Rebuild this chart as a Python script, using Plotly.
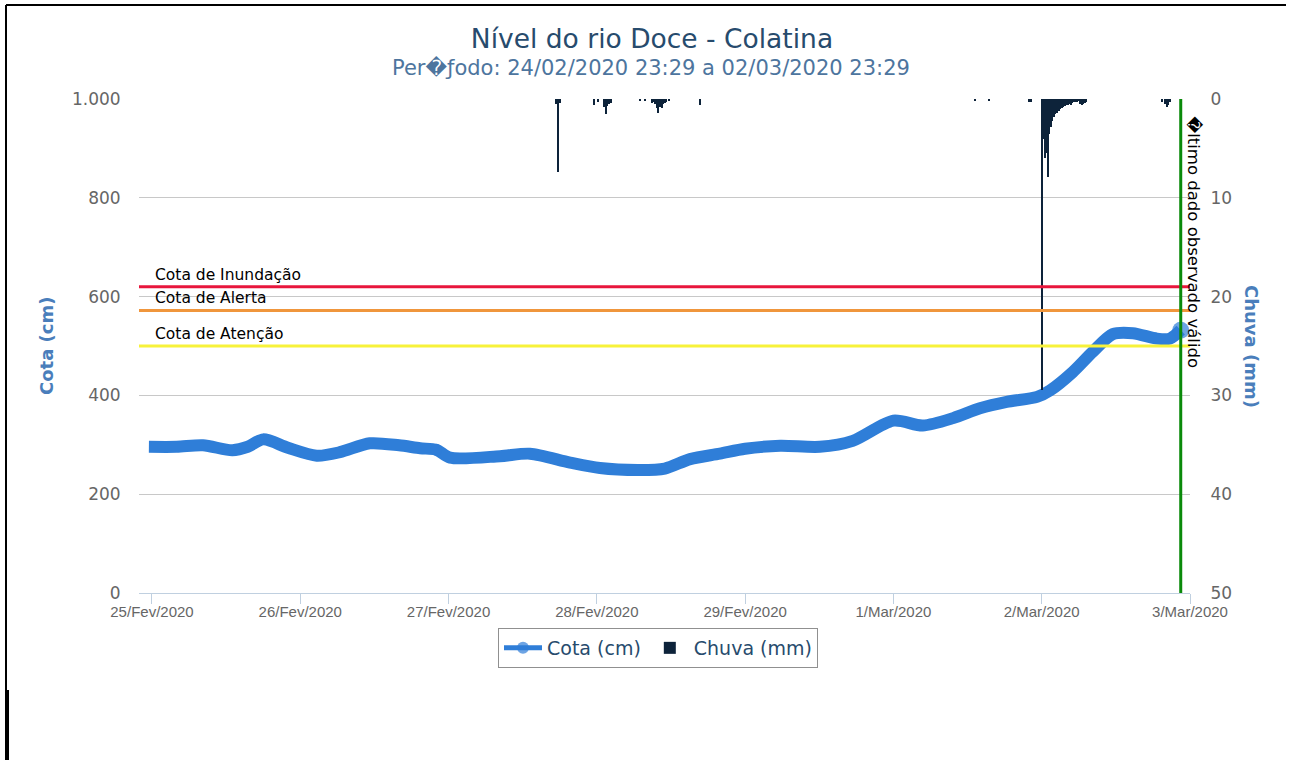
import plotly.graph_objects as go

# ---------------- data ----------------
title_text = "Nível do rio Doce - Colatina"
subtitle_text = "Per\ufffd\u0192odo: 24/02/2020 23:29 a 02/03/2020 23:29"

cota_time = [
    "2020-02-24 23:30", "2020-02-25 04:00", "2020-02-25 08:15", "2020-02-25 13:00",
    "2020-02-25 15:30", "2020-02-25 18:00", "2020-02-25 22:00", "2020-02-26 02:40",
    "2020-02-26 06:25", "2020-02-26 11:15", "2020-02-26 16:00", "2020-02-26 19:25",
    "2020-02-26 22:00", "2020-02-27 00:15", "2020-02-27 08:20", "2020-02-27 13:10",
    "2020-02-27 19:40", "2020-02-28 00:30", "2020-02-28 07:00", "2020-02-28 11:00",
    "2020-02-28 15:05", "2020-02-28 19:55", "2020-02-29 00:00", "2020-02-29 05:40",
    "2020-02-29 12:05", "2020-02-29 17:25", "2020-03-01 00:00", "2020-03-01 04:45",
    "2020-03-01 09:40", "2020-03-01 14:00", "2020-03-01 18:20", "2020-03-01 23:15",
    "2020-03-02 01:20", "2020-03-02 05:00", "2020-03-02 08:15", "2020-03-02 11:30",
    "2020-03-02 14:45", "2020-03-02 18:40", "2020-03-02 20:45", "2020-03-02 22:30",
]
cota_cm = [
    296, 296, 299, 289,
    296, 311, 294, 278,
    285, 303, 299, 293,
    290, 274, 277, 282,
    264, 253, 249, 252,
    271, 282, 292, 298,
    296, 308, 349, 339,
    354, 374, 387, 397,
    410, 447, 488, 524,
    526, 515, 515, 532,
]

chuva_time = [
    "2020-02-27 17:30", "2020-02-27 17:45", "2020-02-27 18:00", "2020-02-27 23:30",
    "2020-02-28 00:15", "2020-02-28 01:15", "2020-02-28 01:30", "2020-02-28 01:45",
    "2020-02-28 02:00", "2020-02-28 02:15", "2020-02-28 07:00", "2020-02-28 07:45",
    "2020-02-28 09:00", "2020-02-28 09:15", "2020-02-28 09:30", "2020-02-28 09:45",
    "2020-02-28 10:00", "2020-02-28 10:15", "2020-02-28 10:30", "2020-02-28 10:45",
    "2020-02-28 11:00", "2020-02-28 11:15", "2020-02-28 11:45", "2020-02-28 16:45",
    "2020-03-01 13:15", "2020-03-01 15:30", "2020-03-01 22:00", "2020-03-01 22:15",
    "2020-03-02 00:00", "2020-03-02 00:15", "2020-03-02 00:30", "2020-03-02 00:45",
    "2020-03-02 01:00", "2020-03-02 01:15", "2020-03-02 01:30", "2020-03-02 01:45",
    "2020-03-02 02:00", "2020-03-02 02:15", "2020-03-02 02:30", "2020-03-02 02:45",
    "2020-03-02 03:00", "2020-03-02 03:15", "2020-03-02 03:30", "2020-03-02 03:45",
    "2020-03-02 04:00", "2020-03-02 04:15", "2020-03-02 04:30", "2020-03-02 04:45",
    "2020-03-02 05:00", "2020-03-02 05:15", "2020-03-02 05:30", "2020-03-02 05:45",
    "2020-03-02 06:00", "2020-03-02 06:15", "2020-03-02 06:30", "2020-03-02 06:45",
    "2020-03-02 07:00", "2020-03-02 07:15", "2020-03-02 19:30", "2020-03-02 20:00",
    "2020-03-02 20:15", "2020-03-02 20:30", "2020-03-02 20:45",
]
chuva_mm = [
    0.5, 7.4, 0.4, 0.6,
    0.3, 0.8, 1.5, 0.7,
    0.5, 0.4, 0.2, 0.2,
    0.4, 0.3, 0.5, 0.9,
    1.4, 0.8, 0.9, 0.5,
    0.4, 0.3, 0.2, 0.6,
    0.2, 0.2, 0.3, 0.3,
    29.5, 4.0, 6.0, 5.5,
    7.9, 3.5, 2.8, 2.2,
    1.8, 1.5, 1.4, 1.2,
    1.0, 0.9, 0.8, 0.7,
    0.6, 0.6, 0.5, 0.6,
    0.4, 0.3, 0.3, 0.3,
    0.2, 0.5, 0.6, 0.5,
    0.4, 0.3, 0.3, 0.5,
    0.8, 0.6, 0.3,
]

limite_nomes = ["Cota de Inundação", "Cota de Alerta", "Cota de Atenção"]
limite_cm = [620, 572, 500]
limite_cores = ["#e8163c", "#f0963c", "#f7f23a"]

ultimo_dado_time = "2020-03-02 22:30"
ultimo_dado_text = "\ufffdltimo dado observado válido"

x_tick_vals = ["2020-02-25", "2020-02-26", "2020-02-27", "2020-02-28",
               "2020-02-29", "2020-03-01", "2020-03-02", "2020-03-03"]
x_tick_text = ["25/Fev/2020", "26/Fev/2020", "27/Fev/2020", "28/Fev/2020",
               "29/Fev/2020", "1/Mar/2020", "2/Mar/2020", "3/Mar/2020"]
y_tick_vals = [0, 200, 400, 600, 800, 1000]
y_tick_text = ["0", "200", "400", "600", "800", "1.000"]
y2_tick_vals = [0, 10, 20, 30, 40, 50]

# ---------------- layout geometry ----------------
W, H = 1290, 760
ML, MR, MT, MB = 139, 100, 99, 167
PW, PH = W - ML - MR, H - MT - MB


def px(xp):
    return (xp - ML) / PW


def py(yp):
    return (H - MB - yp) / PH


FONT = "DejaVu Sans"
BLUE = "#2f7ed8"

fig = go.Figure()

marker_sizes = [0] * len(cota_cm)
marker_sizes[12] = 12
marker_sizes[-1] = 17

fig.add_trace(go.Scatter(
    x=cota_time, y=cota_cm, name="Cota (cm)", mode="lines+markers",
    line=dict(color=BLUE, width=12, shape="spline", smoothing=0.8),
    marker=dict(color=BLUE, size=marker_sizes, line=dict(width=0)),
    yaxis="y",
))
fig.add_trace(go.Bar(
    x=chuva_time, y=chuva_mm, name="Chuva (mm)",
    marker=dict(color="#0d233a", line=dict(width=0)),
    width=15 * 60 * 1000 * 0.9,
    yaxis="y2",
))

shapes = []
annotations = []
for nome, val, cor in zip(limite_nomes, limite_cm, limite_cores):
    shapes.append(dict(type="line", xref="paper", yref="y", x0=0, x1=1, y0=val, y1=val,
                       line=dict(color=cor, width=3), layer="above"))
    annotations.append(dict(text=nome, xref="paper", yref="y", x=px(153), y=val,
                            xanchor="left", yanchor="bottom", yshift=1, showarrow=False,
                            font=dict(family=FONT, size=15.5, color="#000000")))

shapes.append(dict(type="line", xref="x", yref="paper", x0=ultimo_dado_time, x1=ultimo_dado_time,
                   y0=0, y1=1, line=dict(color="#0a8a0a", width=3), layer="above"))
annotations.append(dict(text=ultimo_dado_text, xref="x", yref="paper", x=ultimo_dado_time,
                        y=py(114), xanchor="left", yanchor="top", xshift=1, textangle=90,
                        showarrow=False, font=dict(family=FONT, size=16.5, color="#000000")))

# subtitle
annotations.append(dict(text=subtitle_text, xref="paper", yref="paper", x=px(651), y=py(67),
                        xanchor="center", yanchor="middle", showarrow=False,
                        font=dict(family=FONT, size=21, color="#4d759e")))
# axis titles
annotations.append(dict(text="<b>Cota (cm)</b>", xref="paper", yref="paper", x=px(46), y=py(346),
                        xanchor="center", yanchor="middle", textangle=-90, showarrow=False,
                        font=dict(family=FONT, size=18, color="#4a7ebb")))
annotations.append(dict(text="<b>Chuva (mm)</b>", xref="paper", yref="paper", x=px(1252), y=py(346),
                        xanchor="center", yanchor="middle", textangle=90, showarrow=False,
                        font=dict(family=FONT, size=18, color="#4a7ebb")))

# frame lines of the screenshot
shapes.append(dict(type="line", xref="paper", yref="paper", x0=px(6), x1=px(1286), y0=py(5), y1=py(5),
                   line=dict(color="#000000", width=2), layer="above"))
shapes.append(dict(type="line", xref="paper", yref="paper", x0=px(6), x1=px(6), y0=py(5), y1=py(760),
                   line=dict(color="#000000", width=2), layer="above"))
shapes.append(dict(type="line", xref="paper", yref="paper", x0=px(7.5), x1=px(7.5), y0=py(690), y1=py(760),
                   line=dict(color="#000000", width=3), layer="above"))

fig.update_layout(
    width=W, height=H,
    margin=dict(l=ML, r=MR, t=MT, b=MB),
    paper_bgcolor="white", plot_bgcolor="white",
    title=dict(text=title_text, x=px(652), xref="paper", xanchor="center",
               y=1 - 39 / H, yanchor="middle",
               font=dict(family=FONT, size=26.5, color="#274b6d")),
    xaxis=dict(type="date", range=["2020-02-24 21:54", "2020-03-03 00:00"],
               tickvals=x_tick_vals, ticktext=x_tick_text,
               ticks="outside", ticklen=10, tickcolor="#c0d0e0", tickwidth=1,
               ticklabelstandoff=-5,
               showline=True, linecolor="#c0d0e0", linewidth=1, showgrid=False, zeroline=False,
               tickfont=dict(family="Liberation Sans", size=15, color="#666666")),
    yaxis=dict(range=[0, 1000], tickvals=y_tick_vals, ticktext=y_tick_text,
               showgrid=True, gridcolor="#c8c8c8", gridwidth=1, zeroline=False, showline=False,
               ticks="outside", ticklen=14, tickcolor="rgba(0,0,0,0)",
               tickfont=dict(family=FONT, size=17, color="#666666")),
    yaxis2=dict(range=[50, 0], overlaying="y", side="right", tickvals=y2_tick_vals,
                showgrid=False, zeroline=False, showline=False,
                ticks="outside", ticklen=16, tickcolor="rgba(0,0,0,0)",
                tickfont=dict(family=FONT, size=17, color="#666666")),
    legend=dict(orientation="h", x=px(658), xanchor="center", y=py(628), yanchor="top",
                bordercolor="#909090", borderwidth=1, bgcolor="white", itemsizing="constant",
                itemwidth=38,
                font=dict(family=FONT, size=19, color="#274b6d")),
    shapes=shapes,
    annotations=annotations,
    showlegend=True,
    bargap=0,
)

fig.write_html("out.html", config={"displayModeBar": False},
               post_script="document.body.style.margin='0px';")
